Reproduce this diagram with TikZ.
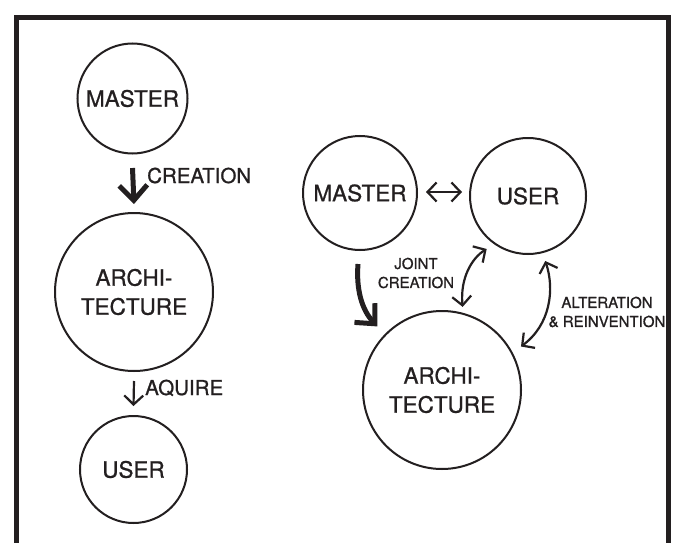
\documentclass[tikz,border=0pt]{standalone}
\usepackage{fontspec}
\setmainfont{TeX Gyre Heros}[FakeBold=0.9]
\usetikzlibrary{arrows.meta,calc}
\definecolor{ink}{HTML}{231F20}
\begin{document}
\begin{tikzpicture}[x=1pt,y=-1pt,
  ring/.style={circle, draw=ink, line width=2pt, inner sep=0pt, text=ink,
    align=center, font=\fontsize{22.5}{29}\selectfont},
  heavy/.style={draw=ink, line width=5pt,
    -{Straight Barb[length=15pt,width=28pt,sharp]}},
  lightone/.style={draw=ink, line width=2.2pt,
    -{Straight Barb[length=9pt,width=19pt]}},
  lighttwo/.style={draw=ink, line width=2.2pt,
    {Straight Barb[length=9pt,width=19pt]}-{Straight Barb[length=9pt,width=19pt]}},
  biglabel/.style={text=ink, inner sep=0pt, font=\fontsize{20.5}{24}\selectfont},
  smalllabel/.style={text=ink, inner sep=0pt, align=center,
    font=\fontsize{15}{19}\selectfont}]
  \useasboundingbox[fill=white] (0,0) rectangle (680,543);
  % open frame
  \draw[ink, line width=5pt, line join=miter] (16.5,548) -- (16.5,18) -- (668,18) -- (668,548);

  % left: linear model
  \node[ring, minimum size=110pt] (lm) at (132.5,98.5) {MASTER};
  \node[ring, minimum size=158pt] (la) at (134,292) {ARCHI-\\TECTURE};
  \node[ring, minimum size=107pt] (lu) at (133.5,469.5) {USER};

  \draw[heavy] ($(lm.south)+(0,13.5)$) -- ($(la.north)+(0,-8)$);
  \draw[lightone] ($(la.south)+(0,9)$) -- ($(lu.north)+(0,-9)$);
  \node[biglabel, anchor=base west] (creation) at (147,183) {CREATION};
  \node[biglabel, anchor=base west] (aquire) at (145,395) {AQUIRE};

  % right: shared model
  \node[ring, minimum size=114pt] (rm) at (360,193) {MASTER};
  \node[ring, minimum size=116pt] (ru) at (528,196) {USER};
  \node[ring, minimum size=158pt] (ra) at (442,390) {ARCHI-\\TECTURE};

  \draw[lighttwo] ($(rm.east)+(8,-1)$) -- ($(ru.west)+(-7,-4)$);
  \draw[heavy] ($(rm.south)+(-2,13)$) .. controls (356,290) and (362,310) .. ($(ra.135)+(-8,-7)$);
  \draw[lighttwo] ($(ru.232)+(-5,6.5)$) .. controls (472,258) and (460,278) .. ($(ra.76)+(1.3,-5.5)$);
  \draw[lighttwo] ($(ru.285)+(2,8)$) .. controls (555,290) and (550,325) .. ($(ra.29)+(9,-4.7)$);

  \node[smalllabel] (joint) at (416,273) {JOINT\\CREATION};
  \node[smalllabel] (alter) at (607,312) {ALTERATION\\\& REINVENTION};
\end{tikzpicture}
\end{document}
